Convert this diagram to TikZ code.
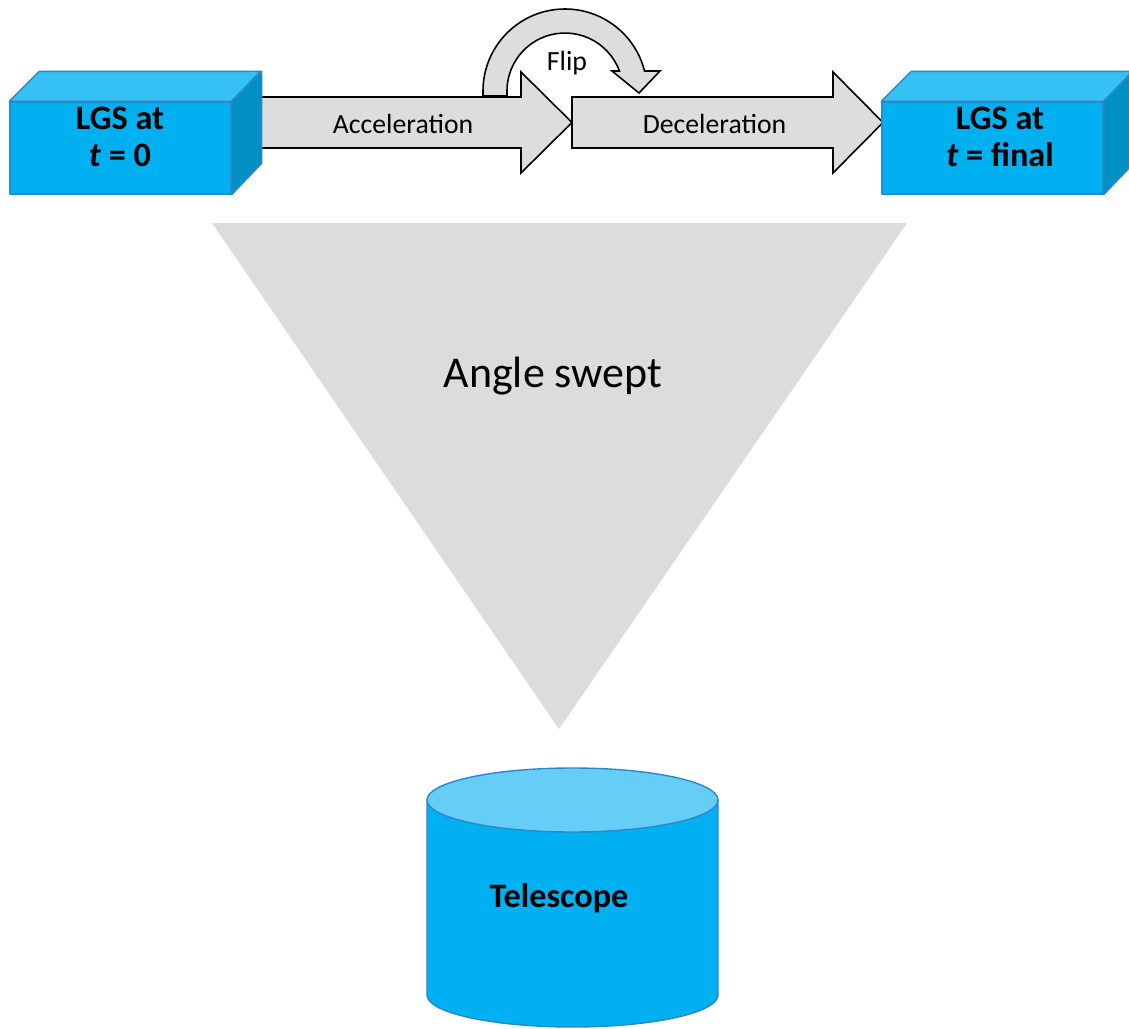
\documentclass[tikz,border=0pt]{standalone}
\usepackage{fontspec}
\setmainfont{Carlito}
\usetikzlibrary{positioning,calc}
\definecolor{lgsfront}{HTML}{00B0F0}
\definecolor{lgstop}{HTML}{35C1F4}
\definecolor{lgsside}{HTML}{0090C4}
\definecolor{lgsline}{HTML}{2A88CC}
\definecolor{scopetop}{HTML}{66CDF7}
\definecolor{arrowgray}{HTML}{DDDDDD}
\definecolor{conegray}{HTML}{DCDCDC}
\tikzset{
  lgsface/.style={draw=lgsline,line width=0.8pt,line join=round},
  blockarrow/.style={draw=black,fill=arrowgray,line width=0.9pt,line join=miter},
}

\begin{document}
\begin{tikzpicture}[
  x=0.02cm,y=-0.02cm,
  front/.style={lgsface,fill=lgsfront,minimum width=4.42cm,minimum height=1.84cm,inner sep=0pt},
  lgstext/.style={font=\fontsize{19.5}{21}\selectfont\bfseries,align=center,inner sep=0pt},
  arrowtext/.style={font=\fontsize{15.8}{18}\selectfont,anchor=base,inner sep=0pt},
]

\useasboundingbox (0,0) rectangle (1129,1028);

\fill[conegray] (212,223) -- (907,223) -- (559,729) -- cycle;
\node[font=\fontsize{25}{30}\selectfont,anchor=base,inner sep=0pt] (angle) at (553,387) {Angle swept};

\draw[blockarrow] (261,97) -- (521,97) -- (521,72) -- (572,122.5) -- (521,173) -- (521,148) -- (261,148) -- cycle;
\draw[blockarrow] (572,97) -- (833,97) -- (833,72) -- (883,122.5) -- (833,173) -- (833,148) -- (572,148) -- cycle;
\draw[blockarrow] (483,96) -- (483,91) arc[start angle=180,end angle=345.9,radius=82]
  -- (660,71) -- (639,93) -- (612,71) -- (619.4,71)
  arc[start angle=339.8,end angle=180,radius=58] -- (507,96) -- cycle;

\node[arrowtext] (acc) at (403,133) {Acceleration};
\node[arrowtext] (dec) at (714.5,133) {Deceleration};
\node[arrowtext] (flip) at (567,70) {Flip};

\node[front] (lgs0) at (120.5,148) {};
\draw[lgsface,fill=lgstop] (lgs0.north west) -- ++(30,-30) -- ++(221,0) -- (lgs0.north east) -- cycle;
\draw[lgsface,fill=lgsside] (lgs0.north east) -- ++(30,-30) -- ++(0,92) -- (lgs0.south east) -- cycle;
\node[lgstext] (lgs0txt) at (120,137) {LGS at\\\textit{t} = 0};

\node[front] (lgs1) at (992.5,148) {};
\draw[lgsface,fill=lgstop] (lgs1.north west) -- ++(30,-30) -- ++(221,0) -- (lgs1.north east) -- cycle;
\draw[lgsface,fill=lgsside] (lgs1.north east) -- ++(30,-30) -- ++(0,92) -- (lgs1.south east) -- cycle;
\node[lgstext] (lgs1txt) at (1000,137) {LGS at\\\textit{t} = final};

\fill[lgsfront] (427,800) -- (427,995) arc[start angle=180,end angle=0,x radius=145.5,y radius=32] -- (718,800) -- cycle;
\draw[lgsface] (427,800) -- (427,995) arc[start angle=180,end angle=0,x radius=145.5,y radius=32] -- (718,800);
\draw[lgsface,fill=scopetop] (572.5,800) ellipse[x radius=145.5,y radius=32];
\node[font=\fontsize{19.5}{24}\selectfont\bfseries,anchor=base,inner sep=0pt] (scope) at (559,907) {Telescope};

\end{tikzpicture}
\end{document}
